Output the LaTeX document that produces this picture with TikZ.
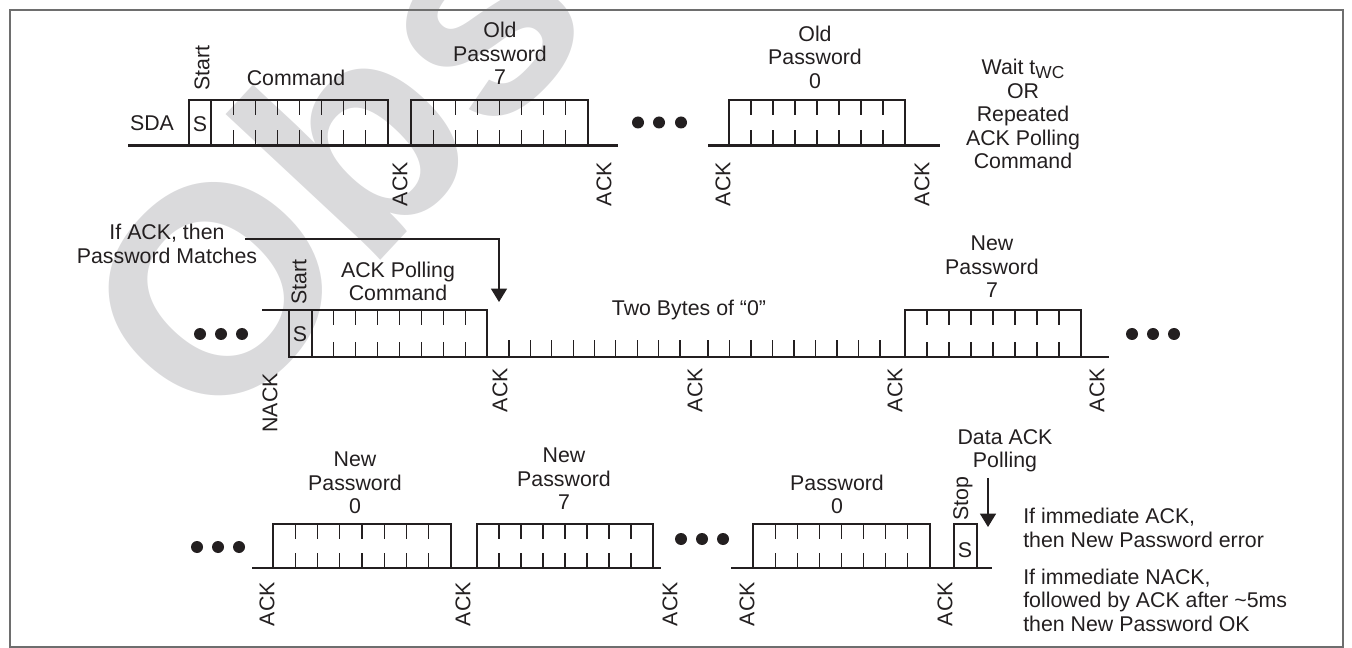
\documentclass[tikz,border=0pt]{standalone}
\usepackage{fontspec}
\setmainfont{Liberation Sans}
\usepackage{tikz}
\usetikzlibrary{arrows.meta}

\definecolor{inkblack}{RGB}{35,31,32}
\definecolor{wmgray}{RGB}{218,218,220}
\definecolor{framegray}{RGB}{110,110,110}

\tikzset{
  lbl/.style={inner sep=0pt, align=center, text=inkblack, font=\fontsize{16}{17.6}\selectfont},
  acklbl/.style={lbl, rotate=90, anchor=east},
  sig/.style={draw=inkblack, line width=2.2pt},
  bittick/.style={draw=inkblack, line width=0.8pt},
  pointer/.style={draw=inkblack, line width=0.9pt, -{Triangle[length=10pt,width=12pt]}},
  wmtext/.style={rotate=47, anchor=base west, inner sep=0pt, text=wmgray, font=\fontsize{220}{220}\selectfont\bfseries},
}

\begin{document}
\begin{tikzpicture}[x=0.75pt,y=0.75pt,yscale=-1,xscale=1]
\useasboundingbox (0,0) rectangle (1352,648);

% Watermark
\node[wmtext] (wmark) at (212,442) {Obsolete};

% Frame
\draw[framegray, line width=1.1pt] (10,10) rectangle (1343,647);

%Straight Lines: bus levels
\draw[sig] (128,145.5) -- (618,145.5);
\draw[sig] (708,145.5) -- (940,145.5);
\draw[sig] (262,310) -- (289,310);
\draw[sig] (289,357) -- (1109,357);
\draw[sig] (252,568) -- (661,568);
\draw[sig] (731,568) -- (992,568);

%Shape: start and stop bits
\draw[sig] (189,100) rectangle (211,145.5);
\draw[sig] (289,310) rectangle (312,357);
\draw[sig] (954,524) rectangle (977,568);

%Shape: byte boxes
\foreach \xa/\xb/\ya/\yb in {211/388/100/145.5, 411/588/100/145.5, 729/905/100/145.5,
    312/487/310/357, 905/1081/310/357,
    273/451/524/568, 477/653/524/568, 753/930/524/568}{
  \draw[sig] (\xa,\yb) -- (\xa,\ya) -- (\xb,\ya) -- (\xb,\yb);
  \foreach \k in {1,...,7}{
    \draw[bittick] ({\xa+\k*(\xb-\xa)/8},\ya) -- ++(0,15);
    \draw[bittick] ({\xa+\k*(\xb-\xa)/8},\yb) -- ++(0,-15);
  }
}

% two bytes of zero
\foreach \k in {0,...,8}{
  \draw[bittick] ({509+\k*21.375},357) -- ++(0,-17);
  \draw[bittick] ({708+\k*21.5},357) -- ++(0,-17);
}

%Shape: Circle (ellipsis dots)
\foreach \cx/\cy in {638/122.5, 659/122.5, 681/122.5,
    200/334, 221/334, 242/334, 1132/334, 1153/334, 1174/334,
    197/547, 218/547, 239/547, 681/539, 702/539, 723/539}
  \fill[inkblack] (\cx,\cy) circle (6);

% Text Node: row 1
\node[lbl] (sda) at (152,123) {SDA};
\node[lbl, rotate=90] (start1) at (202,68) {Start};
\node[lbl] (s1) at (200,124) {S};
\node[lbl] (cmd1) at (296,78) {Command};
\node[lbl] (old7) at (500,53.5) {Old\\Password\\7};
\node[lbl] (old0) at (815,57) {Old\\Password\\0};
\node[lbl] (wait) at (1023,114) {Wait t\raisebox{-0.35ex}{\fontsize{13}{13}\selectfont WC}\\OR\\Repeated\\ACK Polling\\Command};
\foreach \ax [count=\i] in {400,604,723,922}
  \node[acklbl] (ackA\i) at (\ax,162) {ACK};

% Text Node: row 2
\node[lbl] (ifack) at (167,244) {If ACK, then\\Password Matches};
\node[acklbl] (nack) at (270,373) {NACK};
\foreach \ax [count=\i] in {500,695,895,1097}
  \node[acklbl] (ackB\i) at (\ax,368) {ACK};
\node[lbl, rotate=90] (start2) at (299,282) {Start};
\node[lbl] (s2) at (300,334) {S};
\node[lbl] (pollcmd) at (398,281.5) {ACK Polling\\Command};
\node[lbl] (twobytes) at (689,310) {Two Bytes of “0”};
\node[lbl] (new7a) at (992,267) {New\\Password\\7};

% Text Node: row 3
\foreach \ax [count=\i] in {267,463,670,747,945}
  \node[acklbl] (ackC\i) at (\ax,582) {ACK};
\node[lbl] (new0) at (355,483) {New\\Password\\0};
\node[lbl] (new7b) at (564,479) {New\\Password\\7};
\node[lbl] (pw0) at (837,494.5) {Password\\0};
\node[lbl, rotate=90] (stop) at (963,499) {Stop};
\node[lbl] (s3) at (965,550) {S};
\node[lbl] (dataack) at (1005,451) {Data ACK\\Polling};
\node[lbl, align=left, anchor=west] (ackerr) at (1023,528) {If immediate ACK,\\then New Password error};
\node[lbl, align=left, anchor=west] (nackok) at (1023,600) {If immediate NACK,\\followed by ACK after \textasciitilde5ms\\then New Password OK};

% Arrows
\coordinate (matchfrom) at (245,239);
\coordinate (matchtip) at (499,302);
\draw[pointer] (matchfrom) -| (matchtip);
\coordinate (polltop) at (988,478);
\coordinate (polltip) at (988,527);
\draw[pointer] (polltop) -- (polltip);

\end{tikzpicture}
\end{document}
